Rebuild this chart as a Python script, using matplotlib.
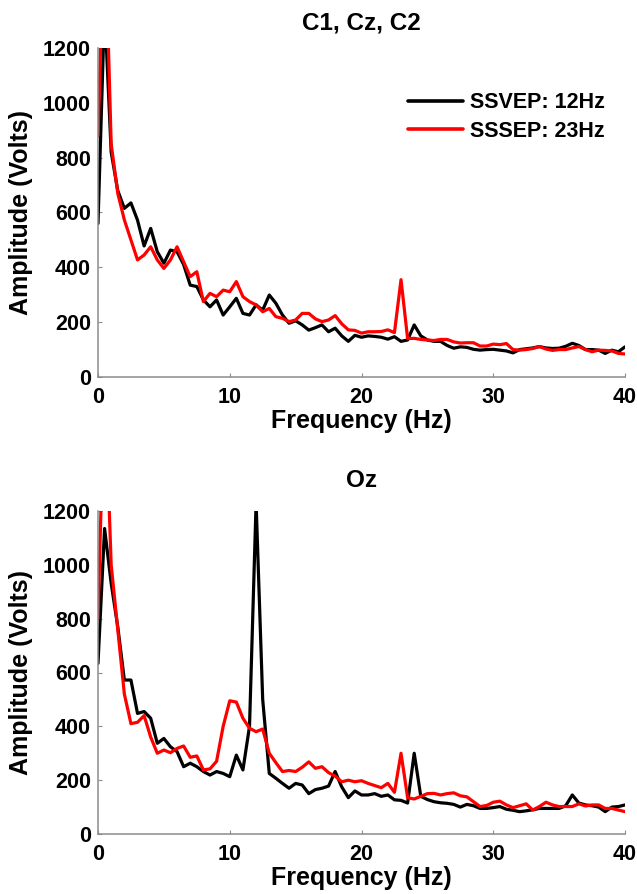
import numpy as np
import matplotlib
matplotlib.use("Agg")
import matplotlib.pyplot as plt

plt.rcParams['font.family'] = ['Liberation Sans', 'DejaVu Sans']
plt.rcParams['font.weight'] = 'bold'

# frequency axis (Hz), 0.5 Hz resolution
freq = np.arange(0, 40.01, 0.5)

# Panel 1: C1, Cz, C2
c_ssvep = [560, 1350, 820, 680, 615, 635, 572, 478, 542, 457,
           415, 463, 457, 410, 335, 330, 281, 256, 281, 226,
           256, 287, 232, 226, 263, 244, 299, 269, 226, 196,
           205, 190, 171, 180, 190, 165, 178, 150, 130, 152,
           145, 150, 148, 145, 138, 147, 130, 135, 190, 150,
           135, 130, 130, 115, 105, 110, 108, 101, 98, 100,
           101, 98, 95, 88, 100, 103, 106, 111, 106, 104,
           105, 112, 123, 115, 100, 100, 98, 86, 98, 92,
           110]
c_sssep = [880, 1700, 850, 670, 573, 500, 427, 445, 475, 427,
           396, 427, 475, 420, 366, 384, 275, 305, 293, 317,
           311, 348, 293, 275, 263, 238, 250, 220, 214, 202,
           208, 232, 232, 212, 202, 208, 224, 194, 172, 170,
           160, 165, 165, 166, 172, 162, 355, 140, 141, 137,
           135, 133, 137, 137, 128, 124, 125, 125, 113, 113,
           120, 118, 122, 100, 98, 100, 104, 111, 102, 97,
           100, 100, 106, 111, 100, 92, 98, 97, 95, 86,
           84]

# Panel 2: Oz
o_ssvep = [634, 1135, 931, 770, 572, 572, 448, 455, 430, 337,
           355, 324, 306, 250, 263, 250, 232, 219, 232, 225,
           213, 293, 238, 400, 1230, 500, 225, 207, 188, 170,
           188, 182, 150, 165, 170, 178, 232, 175, 135, 160,
           145, 145, 150, 140, 145, 127, 125, 115, 300, 140,
           128, 120, 116, 114, 110, 100, 110, 105, 95, 95,
           98, 102, 92, 88, 83, 86, 90, 95, 95, 95,
           95, 105, 145, 115, 108, 105, 100, 83, 100, 102,
           108]
o_sssep = [800, 1700, 1000, 760, 520, 410, 415, 440, 360, 300,
           312, 302, 318, 327, 285, 290, 238, 242, 270, 400,
           495, 490, 430, 393, 380, 390, 300, 265, 232, 236,
           232, 248, 268, 244, 250, 228, 215, 194, 200, 194,
           198, 188, 180, 172, 188, 155, 300, 135, 130, 140,
           150, 151, 145, 150, 153, 142, 138, 120, 102, 106,
           118, 122, 108, 98, 105, 112, 89, 102, 118, 108,
           102, 102, 102, 112, 104, 108, 108, 95, 95, 89,
           83]

titles = ["C1, Cz, C2", "Oz"]
legend_labels = ["SSVEP: 12Hz", "SSSEP: 23Hz"]
xticks = [0, 10, 20, 30, 40]
yticks = [0, 200, 400, 600, 800, 1000, 1200]

W, H = 637, 894
fig = plt.figure(figsize=(W / 100, H / 100), dpi=100)

def make_ax(left, top, right, bottom):
    return fig.add_axes([left / W, 1 - bottom / H, (right - left) / W, (bottom - top) / H])

ax1 = make_ax(98, 48, 625, 377)
ax2 = make_ax(98, 511, 625, 834)

spine_col = '#8c8c8c'
for ax, (s1, s2), title, tpad in [(ax1, (c_ssvep, c_sssep), titles[0], 13),
                                   (ax2, (o_ssvep, o_sssep), titles[1], 17)]:
    ax.plot(freq, s1, color='black', lw=2.3, label=legend_labels[0],
            solid_joinstyle='round', solid_capstyle='round')
    ax.plot(freq, s2, color='#ff0000', lw=2.3, label=legend_labels[1],
            solid_joinstyle='round', solid_capstyle='round')
    ax.set_xlim(0, 40)
    ax.set_ylim(0, 1200)
    ax.set_xticks(xticks)
    ax.set_yticks(yticks)
    ax.spines['top'].set_visible(False)
    ax.spines['right'].set_visible(False)
    for sp in ('left', 'bottom'):
        ax.spines[sp].set_color(spine_col)
        ax.spines[sp].set_linewidth(1.1)
    ax.tick_params(direction='in', length=3, width=0.8, color=spine_col,
                   labelsize=15.5, pad=5)
    ax.tick_params(axis='x', pad=7)
    for lab in ax.get_xticklabels() + ax.get_yticklabels():
        lab.set_fontweight('bold')
    ax.set_xlabel("Frequency (Hz)", fontsize=18, fontweight='bold', labelpad=1)
    ax.set_ylabel("Amplitude (Volts)", fontsize=18, fontweight='bold', labelpad=7)
    ax.set_title(title, fontsize=17.5, fontweight='bold', pad=tpad)

leg = ax1.legend(loc='center left', bbox_to_anchor=((408 - 98) / 527, (377 - 117) / 329),
                 frameon=False, fontsize=15.5, handlelength=2.55, handletextpad=0.33,
                 labelspacing=0.35, borderpad=0, borderaxespad=0)
for t in leg.get_texts():
    t.set_fontweight('bold')
for l in leg.get_lines():
    l.set_linewidth(2.6)

fig.savefig("out.png", dpi=100)
